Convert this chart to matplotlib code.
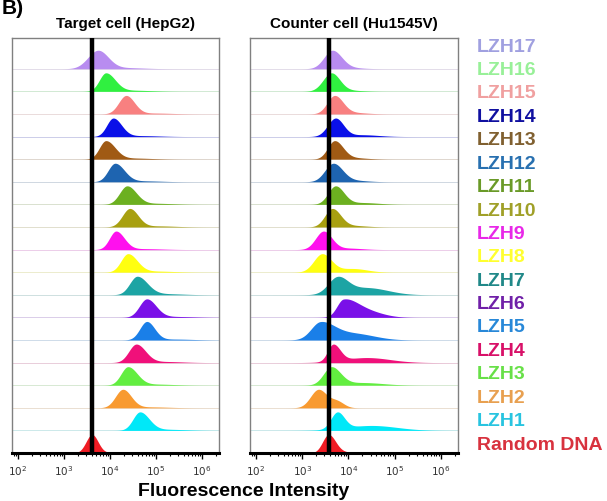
import numpy as np
import matplotlib
matplotlib.use("Agg")
import matplotlib.pyplot as plt
from matplotlib.ticker import LogLocator, FixedLocator, NullFormatter

plt.rcParams['font.family'] = ['Liberation Sans', 'DejaVu Sans']

# rows from bottom (index 0) to top
labels = ["Random DNA", "LZH1", "LZH2", "LZH3", "LZH4", "LZH5", "LZH6", "LZH7", "LZH8",
          "LZH9", "LZH10", "LZH11", "LZH12", "LZH13", "LZH14", "LZH15", "LZH16", "LZH17"]

fill_colors = ["#f01c24", "#00e8f8", "#f89a30", "#62ee40", "#f0107a", "#1a7fe8", "#7a10e8",
               "#1ca4a4", "#ffff10", "#ff10ee", "#a8a010", "#6cb020", "#1e64b0", "#a05a14",
               "#0a10e8", "#f88080", "#30f040", "#b88cf0"]
label_colors = ["#d8323e", "#28c4e0", "#e8a050", "#68e048", "#d81068", "#2888d8", "#7020a8",
                "#208888", "#ffff30", "#e828e8", "#a0a028", "#6a9a28", "#2870b0", "#806030",
                "#1010a0", "#f0a0a0", "#98f098", "#a0a0e0"]

# histogram shape parameters (log10 fluorescence)
target_peak = [3.61, 4.65, 4.28, 4.39, 4.57, 4.80, 4.80, 4.59, 4.39, 4.13, 4.43, 4.37, 4.11,
               3.91, 4.07, 4.35, 3.91, 3.74]
target_sl = [0.13, 0.15, 0.16, 0.15, 0.16, 0.15, 0.16, 0.16, 0.15, 0.14, 0.16, 0.16, 0.15,
             0.14, 0.14, 0.16, 0.14, 0.22]
target_sr = [0.13, 0.20, 0.18, 0.20, 0.20, 0.17, 0.20, 0.22, 0.20, 0.18, 0.18, 0.20, 0.20,
             0.20, 0.18, 0.18, 0.20, 0.22]
target_tail = [0.03, 0.06, 0.05, 0.06, 0.06, 0.05, 0.05, 0.06, 0.06, 0.05, 0.06, 0.06, 0.05,
               0.06, 0.05, 0.05, 0.06, 0.06]

counter_peak = [3.57, 3.76, 3.35, 3.63, 3.67, 3.39, 3.89, 3.76, 3.43, 3.46, 3.65, 3.72, 3.67,
                3.70, 3.72, 3.70, 3.63, 3.65]
counter_sl = [0.13, 0.14, 0.17, 0.17, 0.12, 0.20, 0.14, 0.20, 0.18, 0.17, 0.16, 0.16, 0.18,
              0.15, 0.17, 0.16, 0.18, 0.18]
counter_sr = [0.15, 0.15, 0.18, 0.20, 0.15, 0.30, 0.30, 0.22, 0.20, 0.18, 0.18, 0.18, 0.20,
              0.18, 0.17, 0.18, 0.18, 0.20]
counter_tail_amp = [0.05, 0.30, 0.35, 0.15, 0.30, 0.40, 0.35, 0.45, 0.20, 0.08, 0.08, 0.10,
                    0.08, 0.08, 0.10, 0.08, 0.06, 0.06]
counter_tail_pos = [3.90, 4.50, 3.75, 4.30, 4.40, 4.10, 4.40, 4.40, 4.10, 4.00, 4.10, 4.30,
                    4.10, 4.10, 4.30, 4.10, 4.00, 4.00]
counter_tail_sig = [0.20, 0.55, 0.15, 0.45, 0.50, 0.45, 0.35, 0.45, 0.30, 0.30, 0.30, 0.35,
                    0.30, 0.30, 0.35, 0.30, 0.30, 0.30]

gate_target = 3.61
gate_counter = 3.57

xmin, xmax = 1.87, 6.37
row_h = 0.82


def shape(x, c, sl, sr, amp, tpos, tsig):
    s = np.where(x < c, sl, sr)
    y = np.exp(-0.5 * ((x - c) / s) ** 2) + amp * np.exp(-0.5 * ((x - tpos) / tsig) ** 2)
    return y / y.max()


fig = plt.figure(figsize=(6.07, 5.01), dpi=100)
W, H = 607.0, 501.0
ax1 = fig.add_axes([12 / W, 1 - 453 / H, 207 / W, 415 / H])
ax2 = fig.add_axes([250 / W, 1 - 453 / H, 208 / W, 415 / H])

xs = np.linspace(xmin, xmax, 800)
for k, ax in enumerate([ax1, ax2]):
    for i in range(len(labels)):
        if k == 0:
            y = shape(xs, target_peak[i], target_sl[i], target_sr[i],
                      target_tail[i], target_peak[i] + 0.6, 0.4)
        else:
            y = shape(xs, counter_peak[i], counter_sl[i], counter_sr[i],
                      counter_tail_amp[i], counter_tail_pos[i], counter_tail_sig[i])
        ax.axhline(i, color=fill_colors[i], lw=0.6, alpha=0.2, zorder=1)
        ax.axhline(i, color="#bbbbbb", lw=0.4, alpha=0.5, zorder=1)
        ax.fill_between(10 ** xs, i, i + row_h * y, color=fill_colors[i], lw=0, zorder=2)
    gate = gate_target if k == 0 else gate_counter
    ax.axvline(10 ** gate, color="black", lw=3.2, zorder=5)

    ax.set_xscale("log")
    ax.set_xlim(10 ** xmin, 10 ** xmax)
    ax.set_ylim(0, 18.36)
    ax.set_yticks([])
    ax.xaxis.set_major_locator(FixedLocator([1e2, 1e3, 1e4, 1e5, 1e6]))
    ax.xaxis.set_minor_locator(LogLocator(base=10, subs=np.arange(2, 10), numticks=20))
    ax.xaxis.set_minor_formatter(NullFormatter())
    ax.set_xticklabels([r"$10^{2}$", r"$10^{3}$", r"$10^{4}$", r"$10^{5}$", r"$10^{6}$"],
                       fontsize=7.5, color="#333333")
    ax.tick_params(axis="x", which="major", direction="out", length=4, width=1, pad=4)
    ax.tick_params(axis="x", which="minor", direction="out", length=2, width=0.8)
    for side in ["left", "right", "top"]:
        ax.spines[side].set_color("#808080")
        ax.spines[side].set_linewidth(1.0)
    ax.spines["bottom"].set_linewidth(2.2)
    ax.spines["bottom"].set_color("black")

fig.text(125 / W, 1 - 28 / H, "Target cell (HepG2)", fontsize=11, fontweight="bold",
         ha="center", va="baseline")
fig.text(354 / W, 1 - 28 / H, "Counter cell (Hu1545V)", fontsize=11, fontweight="bold",
         ha="center", va="baseline")
fig.text(2 / W, 1 - 14 / H, "B)", fontsize=15, fontweight="bold", ha="left", va="baseline")
fig.text(244 / W, 1 - 496 / H, "Fluorescence Intensity", fontsize=14, fontweight="bold",
         ha="center", va="baseline")

for i, lab in enumerate(labels):
    ypix = 445 - i * 23.4
    fig.text(477 / W, 1 - ypix / H, lab, fontsize=14, fontweight="bold",
             color=label_colors[i], ha="left", va="center")

fig.savefig("out.png", dpi=100)
